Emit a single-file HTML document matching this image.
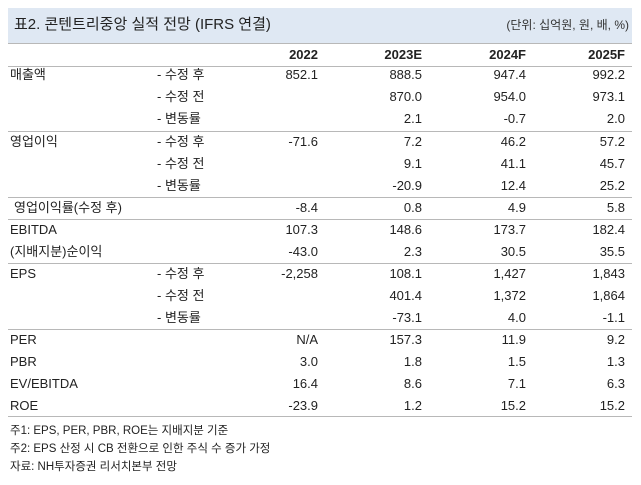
<!DOCTYPE html><html><head><meta charset="utf-8"><style>
body{margin:0;width:641px;height:485px;background:#fff;position:relative;font-family:"Liberation Sans","Noto Sans CJK KR",sans-serif;color:#222;overflow:hidden}
.a{position:absolute;font-size:13px;line-height:22px;white-space:nowrap}
.r{text-align:right}
.hl{position:absolute;left:8px;width:624px;height:1px;background:#b8b8b8}
</style></head><body>
<div style="position:absolute;left:8px;top:8px;width:624px;height:35px;background:#dfe8f3"></div>
<div class="a" style="left:14px;top:14px;font-size:15px;">표2. 콘텐트리중앙 실적 전망 (IFRS 연결)</div>
<div class="a" style="right:12px;top:14px;font-size:12px;color:#333">(단위: 십억원, 원, 배, %)</div>
<div class="hl" style="top:43px"></div>
<div id="t"></div>
<div class="hl" style="top:66px"></div>
<div class="hl" style="top:131px"></div>
<div class="hl" style="top:197px"></div>
<div class="hl" style="top:219px"></div>
<div class="hl" style="top:263px"></div>
<div class="hl" style="top:329px"></div>
<div class="hl" style="top:416px"></div>
<div class="a" style="left:10px;top:420px;font-size:11.5px">주1: EPS, PER, PBR, ROE는 지배지분 기준</div>
<div class="a" style="left:10px;top:438px;font-size:11.5px">주2: EPS 산정 시 CB 전환으로 인한 주식 수 증가 가정</div>
<div class="a" style="left:10px;top:456px;font-size:11.5px">자료: NH투자증권 리서치본부 전망</div>
<script>
var rows=[
[44,"","",["<b>2022</b>","<b>2023E</b>","<b>2024F</b>","<b>2025F</b>"]],
[64,"매출액","- 수정 후",["852.1","888.5","947.4","992.2"]],
[86,"","- 수정 전",["","870.0","954.0","973.1"]],
[108,"","- 변동률",["","2.1","-0.7","2.0"]],
[131,"영업이익","- 수정 후",["-71.6","7.2","46.2","57.2"]],
[153,"","- 수정 전",["","9.1","41.1","45.7"]],
[175,"","- 변동률",["","-20.9","12.4","25.2"]],
[197," 영업이익률(수정 후)","",["-8.4","0.8","4.9","5.8"]],
[219,"EBITDA","",["107.3","148.6","173.7","182.4"]],
[241,"(지배지분)순이익","",["-43.0","2.3","30.5","35.5"]],
[263,"EPS","- 수정 후",["-2,258","108.1","1,427","1,843"]],
[285,"","- 수정 전",["","401.4","1,372","1,864"]],
[307,"","- 변동률",["","-73.1","4.0","-1.1"]],
[329,"PER","",["N/A","157.3","11.9","9.2"]],
[351,"PBR","",["3.0","1.8","1.5","1.3"]],
[373,"EV/EBITDA","",["16.4","8.6","7.1","6.3"]],
[395,"ROE","",["-23.9","1.2","15.2","15.2"]]];
var rx=[318,422,526,625],h="";
rows.forEach(function(r){
h+='<div class="a" style="left:'+(r[1].charAt(0)==" "?14:10)+'px;top:'+r[0]+'px">'+r[1].trim()+'</div>';
h+='<div class="a" style="left:157px;top:'+r[0]+'px">'+r[2]+'</div>';
r[3].forEach(function(v,i){h+='<div class="a r" style="right:'+(641-rx[i])+'px;top:'+r[0]+'px">'+v+'</div>';});
});
document.getElementById("t").outerHTML=h;
</script>
</body></html>
